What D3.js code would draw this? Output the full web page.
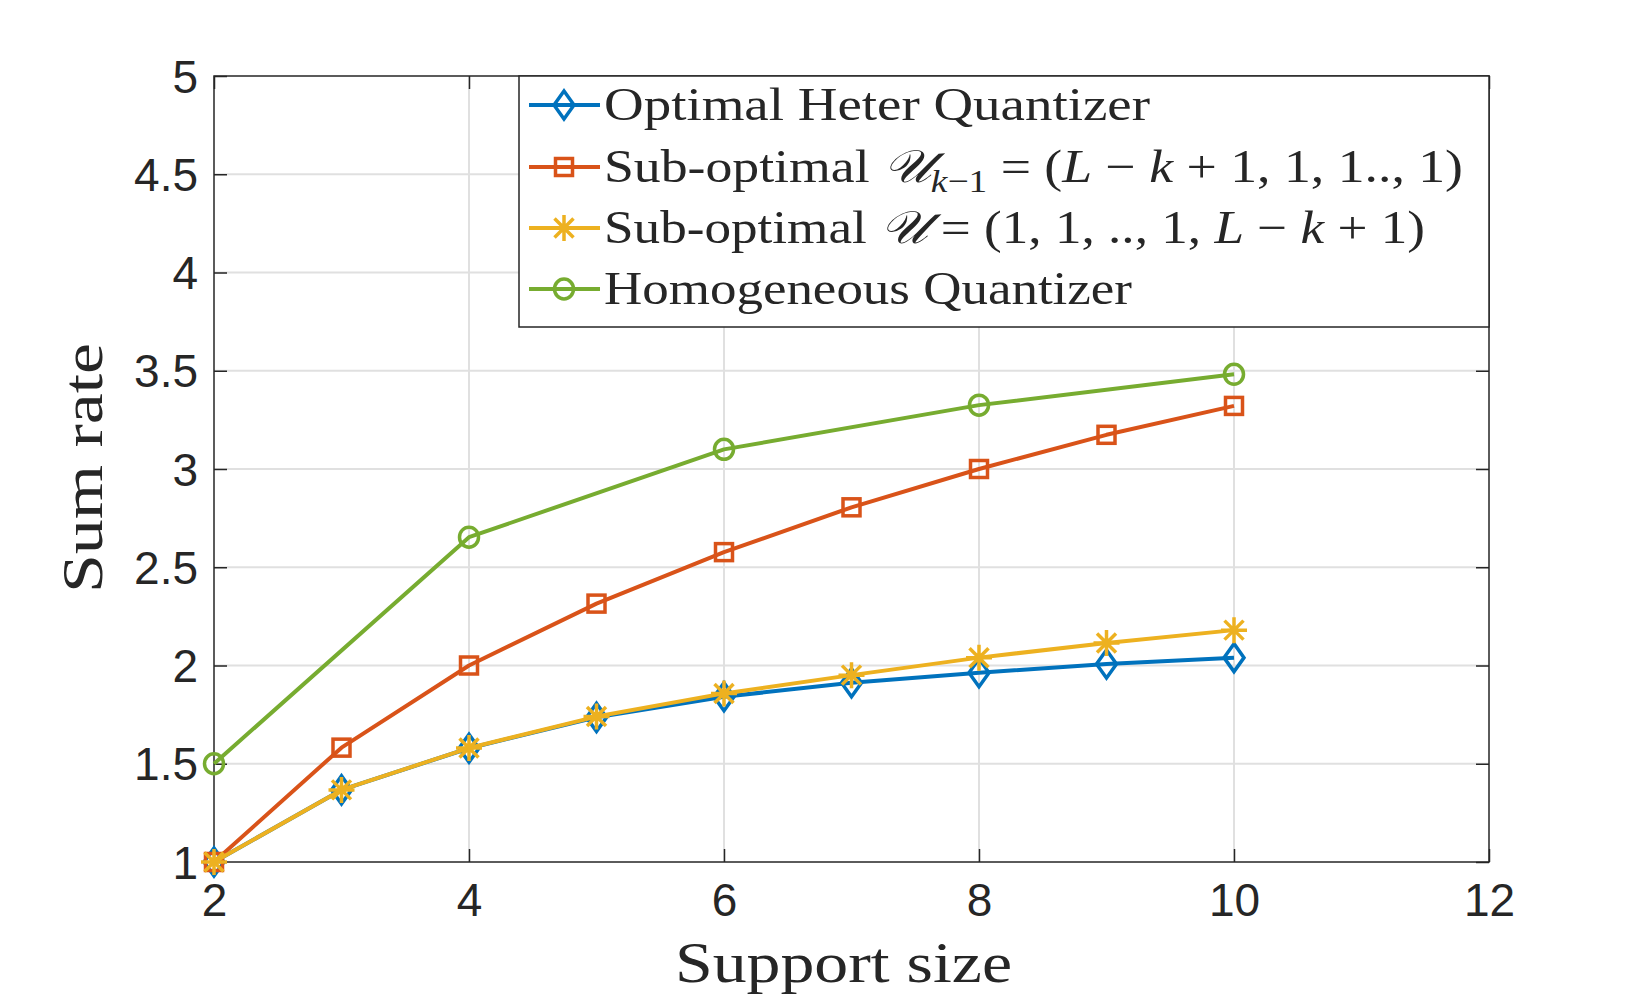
<!DOCTYPE html>
<html>
<head>
<meta charset="utf-8">
<script src="https://cdn.jsdelivr.net/npm/d3@7"></script>
<style>
  body { margin: 0; background: #fff; }
  svg text { fill: #262626; }
</style>
</head>
<body>
<div id="chart"></div>
<script>
// Chart data
const supportSize = [2, 3, 4, 5, 6, 7, 8, 9, 10];
const optimalHeter = [1.0, 1.367, 1.579, 1.736, 1.841, 1.912, 1.963, 2.008, 2.04];
const subOptFirst = [1.0, 1.582, 2.0, 2.315, 2.577, 2.805, 3.0, 3.174, 3.321];
const subOptLast = [1.0, 1.367, 1.58, 1.74, 1.858, 1.951, 2.04, 2.115, 2.18];
const homoSize = [2, 4, 6, 8, 10];
const homogeneous = [1.5, 2.653, 3.10, 3.325, 3.482];
const xTicks = [2, 4, 6, 8, 10, 12];
const yTicks = [1, 1.5, 2, 2.5, 3, 3.5, 4, 4.5, 5];

const W = 1646, H = 1007;
const margins = { top: 76, right: 157, bottom: 145, left: 214 };
const width = W - margins.left - margins.right;
const height = H - margins.top - margins.bottom;

const svg = d3.select("#chart").append("svg")
    .attr("width", W).attr("height", H);
svg.append("rect").attr("width", W).attr("height", H).attr("fill", "#fff");

const g = svg.append("g").attr("transform", `translate(${margins.left},${margins.top})`);

const xScale = d3.scaleLinear().domain([2, 12]).range([0, width]);
const yScale = d3.scaleLinear().domain([1, 5]).range([height, 0]);

// grid
g.append("g").selectAll("line").data(xTicks.slice(1, -1)).enter().append("line")
    .attr("x1", d => xScale(d)).attr("x2", d => xScale(d))
    .attr("y1", 0).attr("y2", height)
    .attr("stroke", "#e0e0e0").attr("stroke-width", 2);
g.append("g").selectAll("line").data(yTicks.slice(1, -1)).enter().append("line")
    .attr("y1", d => yScale(d)).attr("y2", d => yScale(d))
    .attr("x1", 0).attr("x2", width)
    .attr("stroke", "#e0e0e0").attr("stroke-width", 2);

// axes (ticks inward, box on)
const tickLen = 13;
const axisStyle = sel => {
    sel.select(".domain").remove();
    sel.selectAll("line").attr("stroke", "#262626").attr("stroke-width", 1.5);
    sel.selectAll("text").attr("font-family", "'Liberation Sans', Arial, sans-serif")
        .attr("font-size", 46).attr("fill", "#262626");
};
g.append("g").attr("transform", `translate(0,${height})`)
    .call(d3.axisBottom(xScale).tickValues(xTicks).tickSize(-tickLen).tickPadding(38))
    .call(axisStyle);
g.append("g")
    .call(d3.axisTop(xScale).tickValues(xTicks).tickSize(-tickLen).tickFormat(""))
    .call(axisStyle);
g.append("g")
    .call(d3.axisLeft(yScale).tickValues(yTicks).tickSize(-tickLen).tickPadding(16)
        .tickFormat(d3.format("")))
    .call(axisStyle);
g.append("g").attr("transform", `translate(${width},0)`)
    .call(d3.axisRight(yScale).tickValues(yTicks).tickSize(-tickLen).tickFormat(""))
    .call(axisStyle);
g.selectAll("g.tick text").attr("dy", null).attr("dominant-baseline", "central");

// box
g.append("rect").attr("width", width).attr("height", height)
    .attr("fill", "none").attr("stroke", "#262626").attr("stroke-width", 1.5);

// markers
const drawMarker = (sel, type, color) => {
    if (type === "diamond") {
        sel.append("path").attr("d", "M0,-14L10,0L0,14L-10,0Z")
            .attr("fill", "none").attr("stroke", color).attr("stroke-width", 3.5);
    } else if (type === "square") {
        sel.append("rect").attr("x", -8.5).attr("y", -8.5).attr("width", 17).attr("height", 17)
            .attr("fill", "none").attr("stroke", color).attr("stroke-width", 3.5);
    } else if (type === "star") {
        sel.append("path").attr("d", "M0,-13V13M-13,0H13M-9.5,-9.5L9.5,9.5M-9.5,9.5L9.5,-9.5")
            .attr("fill", "none").attr("stroke", color).attr("stroke-width", 3.5);
    } else {
        sel.append("ellipse").attr("rx", 9.5).attr("ry", 10)
            .attr("fill", "none").attr("stroke", color).attr("stroke-width", 3.5);
    }
};

const series = [
    { xs: supportSize, ys: optimalHeter, color: "#0072BD", marker: "diamond" },
    { xs: supportSize, ys: subOptFirst, color: "#D95319", marker: "square" },
    { xs: supportSize, ys: subOptLast, color: "#EDB120", marker: "star" },
    { xs: homoSize, ys: homogeneous, color: "#77AC30", marker: "circle" }
];

const line = d3.line().x(d => xScale(d[0])).y(d => yScale(d[1]));
series.forEach(s => {
    const pts = s.xs.map((x, i) => [x, s.ys[i]]);
    g.append("path").datum(pts).attr("d", line)
        .attr("fill", "none").attr("stroke", s.color).attr("stroke-width", 4)
        .attr("stroke-linejoin", "round");
    g.append("g").selectAll("g").data(pts).enter().append("g")
        .attr("transform", d => `translate(${xScale(d[0])},${yScale(d[1])})`)
        .each(function () { drawMarker(d3.select(this), s.marker, s.color); });
});

// legend
const serif = "'Liberation Serif', 'DejaVu Serif', serif";
const legend = svg.append("g");
const lgX = 519, lgY = 76, lgW = 970, lgH = 251;
legend.append("rect").attr("x", lgX).attr("y", lgY).attr("width", lgW).attr("height", lgH)
    .attr("fill", "#fff").attr("stroke", "#262626").attr("stroke-width", 1.5);

const legendRows = [
    { parts: [["Optimal Heter Quantizer", "normal"]], len: 546 },
    { parts: [["Sub-optimal ", "normal"], ["𝒰", "cal"], ["k", "sub"], ["−1", "subup"], [" = (", "back"], ["L", "italic"],
        [" − ", "normal"], ["k", "italic"], [" + 1, 1, 1.., 1)", "normal"]], len: 859 },
    { parts: [["Sub-optimal ", "normal"], ["𝒰", "cal"], [" = (1, 1, .., 1, ", "normal"], ["L", "italic"],
        [" − ", "normal"], ["k", "italic"], [" + 1)", "normal"]], len: 821 },
    { parts: [["Homogeneous Quantizer", "normal"]], len: 528 }
];
const rowY = [105, 167, 228, 289];

legendRows.forEach((row, i) => {
    const s = series[i];
    const y = rowY[i];
    legend.append("line").attr("x1", 529).attr("x2", 600).attr("y1", y).attr("y2", y)
        .attr("stroke", s.color).attr("stroke-width", 4);
    const m = legend.append("g").attr("transform", `translate(564,${y})`);
    drawMarker(m, s.marker, s.color);

    const t = legend.append("text").attr("x", 604).attr("y", y + 15)
        .attr("font-family", serif).attr("font-size", 46).attr("fill", "#111")
        .attr("textLength", row.len).attr("lengthAdjust", "spacingAndGlyphs");
    row.parts.forEach(([txt, style]) => {
        const ts = t.append("tspan").text(txt);
        if (style === "italic" || style === "cal") ts.attr("font-style", "italic");
        if (style === "sub") ts.attr("font-style", "italic").attr("font-size", 32).attr("dy", 10);
        if (style === "subup") ts.attr("font-size", 32);
        if (style === "back") ts.attr("dy", -10);
    });
});

// axis labels
svg.append("text").attr("x", margins.left + width / 2 - 8).attr("y", 982)
    .attr("text-anchor", "middle").attr("font-family", serif).attr("font-size", 58)
    .attr("fill", "#111").attr("textLength", 337).attr("lengthAdjust", "spacingAndGlyphs")
    .text("Support size");
svg.append("text").attr("transform", `translate(102,468) rotate(-90)`)
    .attr("text-anchor", "middle").attr("font-family", serif).attr("font-size", 58)
    .attr("fill", "#111").attr("textLength", 250).attr("lengthAdjust", "spacingAndGlyphs")
    .text("Sum rate");
</script>
</body>
</html>
